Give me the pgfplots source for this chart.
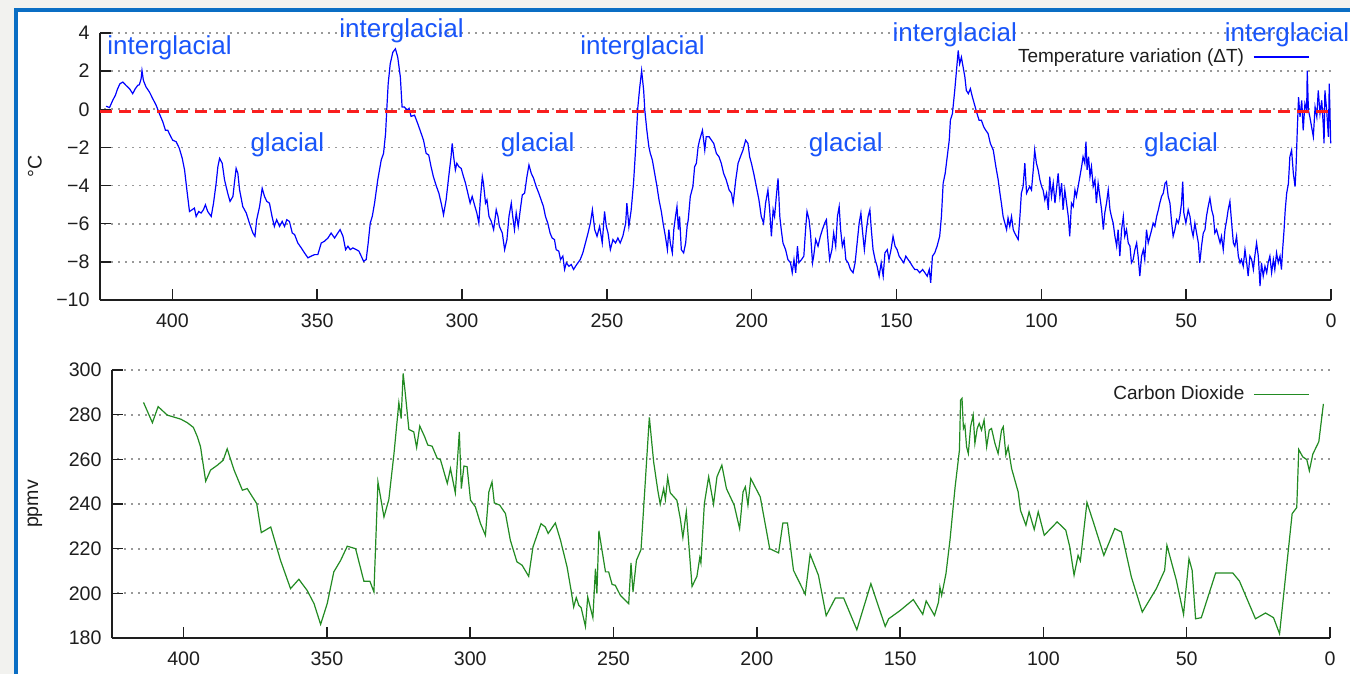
\documentclass[border=0pt]{standalone}
\usepackage{pgfplots}
\pgfplotsset{compat=1.18}
\usepackage{fontspec}
\setmainfont{Liberation Sans}
\definecolor{bggray}{RGB}{242,242,239}
\definecolor{frameblue}{RGB}{10,110,196}
\definecolor{tblue}{RGB}{0,0,255}
\definecolor{labblue}{RGB}{25,85,250}
\definecolor{cgreen}{RGB}{34,139,34}
\definecolor{dashred}{RGB}{250,30,30}
\definecolor{ink}{RGB}{30,30,30}

\pgfplotsset{
  common/.style={
    scale only axis, x dir=reverse, xmin=0, xmax=425, clip=false,
    axis x line*=bottom, axis y line*=left,
    axis line style={-, line width=0.75pt, color=ink},
    tick align=inside, major tick length=5.5pt,
    tick style={line width=0.75pt, color=ink},
    xtick={0,50,...,400},
    /pgf/number format/assume math mode=true,
    tick label style={font=\fontsize{9.8}{11}\selectfont, text=ink},
    xticklabel style={yshift=-3.4pt},
    yticklabel style={xshift=-1.7pt},
    ymajorgrids,
    grid style={color=black!40, line width=0.9pt, dash pattern=on 0.9pt off 2.6pt},
    label style={font=\fontsize{9.8}{11}\selectfont, text=ink},
    legend plot pos=right,
    legend image code/.code={\draw[#1] (0pt,0pt) -- (27.5pt,0pt);},
    legend style={draw=none, fill=none, anchor=east,
      font=\fontsize{9.5}{11}\selectfont, text=ink,
      /tikz/every odd column/.append style={column sep=2.5pt}},
  },
}
\tikzset{lab/.style={font=\fontsize{13}{15}\selectfont, text=labblue, inner sep=0pt, anchor=center}}

\begin{document}
\begin{tikzpicture}
\path[use as bounding box] (0,0) rectangle (675pt,-337pt);
\clip (0,0) rectangle (675pt,-337pt);
\fill[bggray] (0,0) rectangle (675pt,-337pt);
\filldraw[fill=white, draw=frameblue, line width=2.2pt] (8pt,-5pt) rectangle (700pt,-360pt);

% ---------------- Temperature ----------------
\begin{axis}[common,
  at={(50pt,-150pt)}, anchor=south west,
  width=615.5pt, height=133.5pt,
  ymin=-10, ymax=4,
  ytick={-10,-8,-6,-4,-2,0,2,4},
  yticklabels={−10,−8,−6,−4,−2,0,2,4},
  ylabel={°C},
  ylabel style={at={(axis description cs:-0.0528,0.5)}, anchor=center},
  legend style={at={(axis description cs:0.9875,0.91)}},
]
\addplot[tblue, line width=0.6pt] table {
422.9 0.16
421.7 0.09
420.6 0.47
419.7 0.73
418.9 1.08
418.1 1.34
417.1 1.43
416.0 1.25
414.8 1.08
413.7 0.82
412.8 1.08
412.0 1.25
411.4 1.29
410.8 1.60
410.5 2.03
410.0 1.51
409.1 1.17
407.9 0.90
406.8 0.56
405.6 0.21
404.5 -0.23
403.3 -0.66
402.4 -1.10
401.6 -1.10
400.8 -1.36
399.9 -1.62
398.7 -1.70
397.6 -2.05
396.6 -2.57
395.8 -3.18
395.0 -4.23
394.1 -5.36
393.2 -5.27
392.4 -5.18
391.8 -5.62
390.9 -5.36
390.1 -5.44
389.3 -5.27
388.6 -5.01
387.8 -5.36
386.6 -5.62
385.8 -4.92
384.9 -3.88
384.3 -3.01
383.7 -2.57
382.8 -2.83
382.0 -3.70
380.9 -4.40
380.1 -4.83
379.1 -4.57
378.6 -3.88
378.0 -3.10
377.4 -3.36
376.8 -4.23
375.7 -5.10
374.5 -5.44
373.4 -5.97
372.2 -6.49
371.5 -6.66
370.9 -5.79
369.9 -5.10
369.0 -4.14
368.2 -4.57
367.4 -4.83
366.5 -4.92
365.6 -5.62
364.8 -6.14
364.0 -5.79
363.0 -6.14
362.1 -5.88
361.3 -6.14
360.5 -5.79
359.6 -5.88
358.6 -6.49
357.8 -6.57
356.7 -7.01
355.5 -7.27
354.4 -7.53
353.2 -7.79
352.1 -7.70
350.9 -7.62
349.8 -7.62
348.6 -7.01
347.5 -6.92
346.3 -6.75
345.2 -6.49
344.0 -6.75
342.9 -6.49
342.1 -6.31
341.1 -6.66
340.2 -7.36
339.4 -7.18
338.6 -7.36
337.7 -7.27
336.5 -7.36
335.6 -7.44
334.8 -7.70
334.0 -7.97
333.1 -7.88
332.4 -7.01
331.7 -5.97
331.0 -5.62
330.2 -4.92
329.1 -3.70
327.9 -2.66
327.1 -2.31
326.4 -1.27
326.0 -0.05
325.5 1.34
324.8 2.38
323.9 2.99
323.0 3.17
322.2 2.73
321.3 1.69
320.7 0.12
319.9 0.12
319.0 -0.05
318.3 0.05
317.6 -0.37
316.4 -0.31
315.3 -0.75
314.1 -1.27
313.3 -1.62
312.4 -2.31
311.5 -2.40
310.7 -3.01
309.9 -3.53
309.0 -3.97
308.0 -4.40
307.2 -4.92
306.4 -5.53
305.5 -4.75
304.6 -3.53
303.8 -2.49
303.4 -1.79
302.9 -2.49
302.3 -3.18
301.8 -2.83
301.1 -3.01
300.3 -3.10
299.5 -3.53
298.8 -3.88
298.0 -4.40
297.2 -4.92
296.5 -4.57
295.7 -5.01
294.9 -5.44
294.2 -5.97
293.7 -4.75
293.0 -3.53
292.6 -3.88
291.9 -4.92
291.4 -4.75
290.7 -5.62
289.9 -5.88
289.1 -6.31
288.2 -5.27
287.6 -5.62
287.1 -6.14
286.1 -6.49
285.3 -7.36
284.5 -6.83
283.8 -5.62
283.0 -4.92
282.5 -5.62
281.9 -6.31
281.3 -5.44
280.6 -6.14
279.9 -5.27
279.2 -4.49
278.4 -4.40
277.6 -3.53
276.9 -2.92
276.1 -3.36
275.3 -3.62
274.4 -4.05
273.5 -4.40
272.7 -4.75
271.9 -5.10
271.2 -5.62
270.4 -5.97
269.6 -6.49
268.9 -6.75
268.1 -6.83
267.5 -7.36
266.6 -7.44
266.0 -7.88
265.2 -7.70
264.6 -8.40
264.0 -8.05
263.1 -8.23
262.3 -8.14
261.5 -8.40
260.8 -8.23
260.0 -8.05
259.2 -7.88
258.3 -7.53
257.4 -7.01
256.5 -6.49
255.7 -5.97
255.0 -5.27
254.2 -6.31
253.4 -6.66
252.5 -6.14
251.6 -7.01
250.8 -5.36
250.2 -6.14
249.6 -6.49
248.8 -7.36
247.9 -6.83
247.0 -7.01
246.2 -6.75
245.4 -7.01
244.5 -6.66
243.5 -5.97
243.1 -4.92
242.4 -6.14
241.6 -5.27
240.8 -3.88
240.1 -2.14
239.3 0.12
238.7 1.08
238.0 2.03
237.3 0.99
236.9 -0.05
236.2 -1.10
235.5 -1.97
235.0 -2.31
234.3 -2.66
233.5 -3.36
232.7 -4.05
232.0 -4.75
231.2 -5.36
230.6 -5.97
229.8 -6.66
229.1 -7.36
228.6 -6.31
228.1 -7.01
227.4 -7.53
226.9 -6.31
226.3 -5.62
225.8 -5.10
225.3 -6.31
224.9 -5.62
224.3 -7.36
223.5 -7.53
222.8 -7.01
222.3 -6.14
221.9 -5.79
221.2 -4.57
220.3 -4.05
219.7 -3.01
219.1 -2.83
218.5 -1.97
218.0 -1.62
217.0 -1.10
216.2 -2.14
215.7 -1.44
214.7 -1.44
213.9 -1.62
213.1 -1.79
212.2 -2.31
211.3 -2.49
210.5 -2.83
209.7 -3.36
208.8 -3.70
207.8 -4.23
207.0 -4.40
206.4 -4.92
205.5 -3.70
204.7 -2.83
203.9 -2.49
203.0 -2.14
202.1 -1.62
201.3 -1.79
200.7 -2.49
200.1 -2.83
199.3 -3.36
198.4 -4.05
197.5 -4.75
196.7 -5.62
195.9 -5.97
195.2 -4.92
194.4 -4.23
193.8 -5.27
193.2 -6.66
192.6 -5.27
192.1 -5.62
191.5 -4.57
190.9 -3.62
190.3 -5.62
189.8 -6.31
189.2 -7.01
188.3 -7.36
187.5 -7.88
186.6 -8.05
186.0 -8.57
185.4 -7.88
184.8 -8.57
184.2 -7.18
183.7 -8.05
182.8 -7.88
182.0 -7.70
181.4 -6.31
180.9 -5.36
180.2 -5.79
179.7 -6.49
179.0 -8.05
178.6 -7.70
177.9 -6.83
177.1 -7.18
176.3 -6.66
175.6 -6.31
174.8 -5.97
174.2 -5.79
173.6 -7.01
173.1 -7.88
172.3 -7.36
171.7 -6.49
171.0 -7.18
170.4 -5.62
169.8 -5.10
169.3 -6.31
168.7 -7.18
168.1 -6.83
167.5 -7.88
166.7 -8.05
165.9 -8.40
165.0 -8.57
164.3 -8.05
163.6 -7.01
162.9 -5.97
162.3 -5.44
161.8 -6.31
161.1 -7.36
160.4 -6.31
159.8 -5.62
159.2 -5.27
158.7 -6.31
158.1 -7.36
157.4 -7.88
156.7 -8.23
156.0 -8.75
155.3 -8.05
154.6 -8.75
154.0 -7.53
153.2 -7.36
152.6 -7.88
151.9 -7.36
151.2 -6.66
150.5 -7.18
149.8 -7.36
149.1 -7.70
148.3 -7.88
147.5 -8.05
146.8 -7.70
146.0 -7.88
145.2 -8.05
144.5 -8.23
143.7 -8.40
142.9 -8.40
142.0 -8.57
141.0 -8.40
140.2 -8.57
139.4 -8.75
138.7 -8.40
138.2 -9.10
137.6 -7.70
136.8 -7.53
136.0 -7.18
135.1 -6.66
134.5 -5.62
133.9 -3.88
133.2 -3.36
132.5 -2.49
131.8 -1.62
131.4 -0.57
130.7 -0.23
129.9 0.99
129.3 2.03
128.7 3.08
128.2 2.38
127.6 2.73
127.0 2.21
126.4 1.69
125.9 0.99
125.2 0.82
124.5 1.08
123.8 0.64
123.0 0.21
122.2 -0.23
121.5 -0.57
120.7 -0.57
119.9 -0.92
119.2 -1.10
118.4 -1.27
117.6 -1.79
116.6 -2.14
115.7 -3.01
114.9 -3.70
114.3 -4.40
113.8 -4.92
113.2 -5.62
112.6 -5.97
112.0 -6.31
111.5 -5.70
110.9 -6.14
110.3 -5.62
109.7 -6.31
109.2 -6.49
108.6 -6.66
108.0 -6.83
107.4 -5.62
106.9 -4.40
106.3 -4.05
105.7 -2.83
105.1 -4.40
104.6 -4.23
104.0 -4.05
103.4 -4.23
102.8 -3.18
102.3 -2.14
101.7 -2.83
101.1 -3.18
100.5 -3.70
99.9 -4.05
99.4 -4.23
98.8 -4.75
98.2 -4.40
97.6 -5.27
97.1 -3.53
96.5 -4.57
95.9 -3.88
95.3 -4.92
94.8 -4.23
94.2 -3.36
93.6 -4.57
93.0 -3.88
92.5 -5.27
91.9 -4.23
91.3 -4.92
90.7 -5.62
90.2 -6.66
89.6 -4.92
89.0 -5.10
88.4 -4.23
87.9 -4.57
87.3 -4.05
86.7 -3.53
86.1 -3.01
85.6 -2.49
85.0 -2.83
84.6 -1.70
84.2 -3.18
83.7 -2.49
83.2 -3.53
82.7 -3.01
82.1 -4.05
81.5 -3.70
81.0 -4.92
80.4 -3.88
79.8 -4.57
79.2 -5.27
78.6 -6.31
78.1 -5.44
77.5 -4.92
76.9 -4.23
76.3 -5.27
75.8 -5.62
75.2 -5.97
74.6 -6.66
74.0 -7.18
73.5 -6.31
72.9 -7.70
72.3 -6.31
71.7 -5.62
71.2 -6.66
70.6 -6.31
70.0 -7.01
69.4 -7.18
68.9 -8.05
68.3 -7.88
67.7 -7.36
67.1 -7.01
66.6 -7.70
66.0 -8.75
65.4 -7.70
64.8 -7.36
64.3 -7.88
63.7 -6.31
63.1 -7.01
62.5 -6.66
61.9 -6.31
61.4 -5.97
60.8 -6.14
60.2 -5.62
59.6 -5.27
59.1 -4.92
58.5 -4.57
57.9 -4.40
57.3 -3.88
56.8 -3.79
56.2 -4.57
55.6 -4.92
55.0 -5.97
54.5 -6.66
53.9 -6.31
53.3 -5.79
52.7 -5.97
52.2 -5.62
51.6 -4.92
51.2 -3.79
50.8 -5.44
50.1 -5.97
49.3 -5.27
48.7 -5.62
48.1 -6.31
47.6 -6.66
47.0 -5.97
46.4 -6.49
45.8 -7.01
45.3 -8.05
44.7 -7.18
44.1 -6.49
43.5 -6.31
43.0 -5.62
42.4 -5.10
41.8 -4.66
41.2 -5.27
40.6 -5.62
40.1 -6.49
39.5 -6.31
38.9 -6.66
38.3 -7.01
37.8 -6.66
37.2 -7.36
36.6 -6.31
36.0 -5.79
35.5 -5.27
34.9 -4.83
34.3 -5.97
33.7 -7.01
33.2 -7.18
32.6 -6.66
32.0 -7.70
31.4 -8.05
30.9 -7.88
30.3 -8.23
29.7 -7.36
29.1 -8.05
28.6 -8.75
28.0 -7.70
27.4 -7.88
26.8 -8.40
26.3 -7.70
25.7 -7.01
25.1 -7.70
24.5 -9.27
24.0 -8.05
23.4 -8.75
22.8 -8.23
22.2 -8.57
21.7 -8.05
21.1 -7.70
20.5 -8.57
19.9 -7.88
19.4 -8.40
18.8 -7.53
18.2 -8.05
17.6 -7.70
17.1 -8.40
16.7 -7.36
16.2 -6.31
15.8 -5.27
15.3 -4.40
14.7 -3.88
14.2 -2.49
13.6 -2.14
13.0 -3.36
12.4 -4.05
12.1 -3.18
11.6 -0.92
11.2 0.64
10.7 -0.40
10.1 0.47
9.6 -1.10
9.0 0.30
8.4 -0.05
8.2 2.03
7.8 -0.05
7.3 -0.40
6.7 -0.92
6.1 -1.44
5.5 0.12
4.9 -0.40
4.4 0.99
3.8 -0.23
3.2 0.47
2.7 -0.75
2.4 -1.79
2.1 0.99
1.5 -0.05
0.9 -1.44
0.6 1.34
0.1 -1.79
};
\addlegendentry{Temperature variation (ΔT)}
\addplot[dashred, line width=1.5pt, dash pattern=on 6pt off 3.5pt, forget plot] coordinates {(425,-0.1) (0,-0.1)};
\node[lab] at (axis cs:401.0,3.21) {interglacial};
\node[lab] at (axis cs:320.9,4.10) {interglacial};
\node[lab] at (axis cs:237.7,3.21) {interglacial};
\node[lab] at (axis cs:129.9,3.90) {interglacial};
\node[lab] at (axis cs:15.2,3.90) {interglacial};
\node[lab] at (axis cs:360.3,-1.87) {glacial};
\node[lab] at (axis cs:273.9,-1.87) {glacial};
\node[lab] at (axis cs:167.5,-1.87) {glacial};
\node[lab] at (axis cs:51.8,-1.87) {glacial};
\end{axis}

% ---------------- CO2 ----------------
\begin{axis}[common,
  at={(56pt,-319pt)}, anchor=south west,
  width=609pt, height=134pt,
  ymin=180, ymax=300,
  ytick={180,200,...,300},
  ylabel={ppmv},
  ylabel style={at={(axis description cs:-0.0632,0.5)}, anchor=center},
  legend style={at={(axis description cs:0.9885,0.91)}},
]
\addplot[cgreen, line width=0.6pt] table {
414.0 285.5
410.9 276.4
408.9 283.6
405.7 279.8
401.0 278.0
398.7 276.4
396.6 274.3
395.2 270.1
394.1 265.6
392.3 250.2
390.6 255.2
388.2 257.4
386.2 259.6
384.8 264.7
382.4 255.2
379.5 246.2
377.8 246.9
376.0 243.2
374.5 240.2
372.9 227.2
369.6 229.7
366.2 214.8
362.7 202.1
359.8 206.3
356.9 201.3
354.5 195.4
352.2 186.1
349.9 195.4
347.6 209.6
345.2 214.8
342.9 221.1
340.0 220.0
337.1 205.4
335.0 205.4
333.6 200.6
332.2 249.9
330.1 234.2
328.4 242.0
326.6 262.6
324.9 285.4
324.1 278.3
323.4 298.5
322.6 288.8
321.4 273.4
319.7 272.3
318.7 265.3
317.6 274.9
315.9 270.1
314.8 266.4
313.3 265.9
311.5 260.4
310.4 259.9
308.0 249.2
306.9 255.9
305.2 245.0
303.8 272.3
303.1 246.9
302.2 257.0
301.1 256.7
299.9 241.7
298.2 238.7
296.4 231.2
294.7 226.0
293.5 245.4
292.4 249.9
291.6 240.5
289.7 239.5
287.7 235.7
286.0 223.8
283.7 214.1
281.9 212.6
279.6 207.6
278.1 220.8
275.3 231.2
273.8 229.7
272.8 226.8
270.3 231.5
268.5 223.8
266.2 211.8
264.8 201.3
263.9 193.9
263.0 198.1
262.1 194.6
261.3 193.6
259.8 185.2
259.0 198.4
257.2 189.1
256.3 211.1
255.8 199.9
255.1 228.0
252.8 209.6
251.7 209.6
250.5 204.0
249.4 203.6
247.6 199.1
244.7 195.4
243.9 213.6
243.2 200.6
242.0 214.8
240.4 219.6
237.5 278.8
236.0 258.9
234.6 246.5
233.7 239.9
232.5 246.9
231.9 242.0
231.1 251.9
230.2 245.0
227.9 241.7
226.7 233.5
225.8 225.0
224.6 236.5
222.6 203.1
220.9 207.6
219.9 216.0
219.5 213.6
218.3 240.2
216.8 252.2
215.1 239.9
213.9 252.2
212.2 257.4
210.6 246.9
207.9 239.5
206.0 229.0
204.8 245.4
204.0 247.7
203.1 239.5
202.1 251.4
198.8 243.2
195.5 220.0
192.4 218.1
190.9 231.5
189.3 231.5
187.2 210.3
183.1 199.6
181.4 217.5
178.5 208.1
175.8 190.0
172.6 197.9
169.7 197.9
165.1 183.7
160.2 204.3
155.2 185.2
154.0 188.6
150.0 192.3
145.4 197.2
142.1 190.6
140.9 196.6
138.0 190.1
136.6 196.1
136.1 202.8
135.5 199.1
134.0 208.8
132.6 223.8
130.8 247.7
129.3 264.1
128.9 286.5
128.4 287.3
127.9 273.8
127.4 275.3
126.8 265.6
126.2 262.6
125.4 274.6
124.5 279.8
123.9 267.1
123.1 273.8
122.4 276.1
121.6 273.1
120.7 277.6
119.8 265.6
118.9 273.1
118.1 273.8
116.9 267.1
115.8 262.6
114.6 273.1
114.0 274.6
113.1 261.9
112.3 265.6
111.1 255.9
108.8 245.4
108.0 237.2
106.1 230.5
105.0 236.5
103.2 228.6
101.8 236.5
99.7 226.0
95.2 232.0
92.2 228.3
90.8 220.8
89.3 208.1
87.9 217.0
87.1 214.5
84.8 240.7
82.4 231.2
78.9 217.0
75.1 229.0
72.8 227.5
69.3 207.3
65.5 191.6
60.6 202.1
57.7 210.3
56.9 221.5
53.6 205.8
51.1 190.6
49.2 215.5
48.1 210.3
46.9 188.6
44.9 189.1
39.9 209.1
33.9 209.1
31.6 205.5
26.0 188.6
22.5 191.2
19.7 189.1
17.6 181.9
13.2 235.7
11.6 238.4
10.9 264.4
9.5 261.1
8.1 259.9
7.2 254.9
6.0 262.3
3.9 267.9
2.3 284.8
};
\addlegendentry{Carbon Dioxide}
\end{axis}
\end{tikzpicture}
\end{document}
